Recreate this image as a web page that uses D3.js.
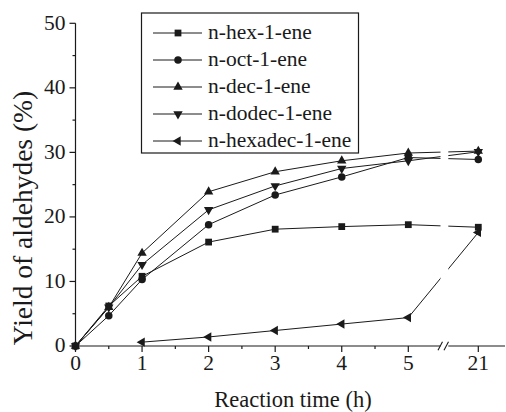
<!DOCTYPE html>
<html>
<head>
<meta charset="utf-8">
<script src="https://cdn.jsdelivr.net/npm/d3@7/dist/d3.min.js"></script>
<style>
  html, body { margin: 0; padding: 0; background: #fff; }
  #wrap { position: relative; width: 506px; height: 412px; overflow: hidden; }
  #wrap svg { position: absolute; left: 0; top: 0; display: block; }
  .lbl { position: absolute; white-space: nowrap; color: #1a1a1a; }
</style>
</head>
<body>
<div id="wrap"><svg id="chart" width="506" height="412"></svg></div>
<script>
// Reaction times (h) and aldehyde yields (%) per alkene
const seriesNames = ["n-hex-1-ene", "n-oct-1-ene", "n-dec-1-ene", "n-dodec-1-ene", "n-hexadec-1-ene"];
const timesMain = [0, 0.5, 1, 2, 3, 4, 5, 21];
const timesHexadec = [1, 2, 3, 4, 5, 21];
const hexValues    = [0, 6.2, 10.8, 16.1, 18.1, 18.5, 18.8, 18.4];
const octValues    = [0, 4.7, 10.3, 18.8, 23.4, 26.2, 29.2, 28.9];
const decValues    = [0, 6.0, 14.4, 23.9, 27.0, 28.7, 29.9, 30.2];
const dodecValues  = [0, 6.0, 12.6, 21.1, 24.8, 27.5, 28.7, 30.1];
const hexadecValues = [0.6, 1.4, 2.4, 3.4, 4.4, 17.6];
const xTickValues = [0, 1, 2, 3, 4, 5, 21];
const xMinorTicks = [0.5, 1.5, 2.5, 3.5, 4.5];
const yTickValues = [0, 10, 20, 30, 40, 50];
const yMinorTicks = [5, 15, 25, 35, 45];
const xTitle = "Reaction time (h)";
const yTitle = "Yield of aldehydes (%)";

const series = [
  { name: seriesNames[0], t: timesMain, v: hexValues, sym: "square" },
  { name: seriesNames[1], t: timesMain, v: octValues, sym: "circle" },
  { name: seriesNames[2], t: timesMain, v: decValues, sym: "up" },
  { name: seriesNames[3], t: timesMain, v: dodecValues, sym: "down" },
  { name: seriesNames[4], t: timesHexadec, v: hexadecValues, sym: "left" }
];

const svg = d3.select("#chart");
const wrap = d3.select("#wrap");
const ink = "#1a1a1a";

// broken time axis: 0–5 h linear, then a jump to 21 h
const x = d3.scaleLinear().domain([0, 5, 21]).range([75.5, 408.3, 478.3]);
const y = d3.scaleLinear().domain([0, 50]).range([346, 23.3]);

const breakL = 440.5, breakR = 448.3, axisEnd = 505;

function symbolPath(kind) {
  if (kind === "square") return d3.symbol(d3.symbolSquare, 46)();
  if (kind === "circle") return d3.symbol(d3.symbolCircle, 44)();
  return d3.symbol(d3.symbolTriangle, 38)();
}
function symbolRotation(kind) {
  if (kind === "down") return 180;
  if (kind === "left") return -90;
  return 0;
}

// serif labels placed by their baseline; anchor: start | middle | end
function label(px, baseline, str, size, anchor, rotate) {
  const top = baseline - 0.8375 * size;
  const shift = anchor === "end" ? "-100%" : anchor === "middle" ? "-50%" : "0";
  const d = wrap.append("div").attr("class", "lbl").text(str);
  const st = d.node().style;
  st.setProperty("font-family", "Liberation Serif", "important");
  st.setProperty("font-size", size + "px");
  st.setProperty("line-height", size + "px");
  if (rotate) {
    st.left = px + "px"; st.top = baseline + "px";
    st.transform = "translate(-50%,-50%) rotate(-90deg)";
  } else {
    st.left = px + "px"; st.top = top + "px";
    st.transform = `translateX(${shift})`;
  }
  return d;
}

const plot = svg.append("g");

// series lines
const line = d3.line().x(d => x(d[0])).y(d => y(d[1]));
series.forEach(s => {
  const pts = s.t.map((t, i) => [t, s.v[i]]);
  plot.append("path")
    .attr("d", line(pts))
    .attr("fill", "none")
    .attr("stroke", ink)
    .attr("stroke-width", 1);
});

// gap in the lines at the axis break
plot.append("rect")
  .attr("x", breakL).attr("y", y(50))
  .attr("width", breakR - breakL).attr("height", y(0) - y(50) - 2)
  .attr("fill", "#fff");

// markers
series.forEach(s => {
  plot.selectAll(null)
    .data(s.t.map((t, i) => [t, s.v[i]]))
    .join("path")
    .attr("d", symbolPath(s.sym))
    .attr("transform", d => `translate(${x(d[0])},${y(d[1])}) rotate(${symbolRotation(s.sym)})`)
    .attr("fill", ink);
});

// y axis
const yAxis = svg.append("g");
yAxis.append("line")
  .attr("x1", x(0)).attr("x2", x(0))
  .attr("y1", y(50)).attr("y2", y(0))
  .attr("stroke", ink).attr("stroke-width", 1.2);
yAxis.selectAll(".major").data(yTickValues).join("line")
  .attr("x1", x(0) - 6).attr("x2", x(0))
  .attr("y1", d => y(d)).attr("y2", d => y(d))
  .attr("stroke", ink).attr("stroke-width", 1.2);
yAxis.selectAll(".minor").data(yMinorTicks).join("line")
  .attr("x1", x(0) - 3).attr("x2", x(0))
  .attr("y1", d => y(d)).attr("y2", d => y(d))
  .attr("stroke", ink).attr("stroke-width", 1.2);
yTickValues.forEach(v => label(x(0) - 10, y(v) + 7.4, String(v), 21.5, "end"));

// x axis (two segments around the break)
const xAxis = svg.append("g");
const y0 = y(0);
xAxis.append("line")
  .attr("x1", x(0)).attr("x2", breakL).attr("y1", y0).attr("y2", y0)
  .attr("stroke", ink).attr("stroke-width", 1.2);
xAxis.append("line")
  .attr("x1", breakR).attr("x2", axisEnd).attr("y1", y0).attr("y2", y0)
  .attr("stroke", ink).attr("stroke-width", 1.2);
[0, 6].forEach(off => {
  xAxis.append("line")
    .attr("x1", breakL - 2.5 + off).attr("y1", y0 + 4.3)
    .attr("x2", breakL + 2 + off).attr("y2", y0 - 4.3)
    .attr("stroke", ink).attr("stroke-width", 1.1);
});
xAxis.selectAll(".major").data(xTickValues).join("line")
  .attr("x1", d => x(d)).attr("x2", d => x(d))
  .attr("y1", y0).attr("y2", y0 + 6)
  .attr("stroke", ink).attr("stroke-width", 1.2);
xAxis.selectAll(".minor").data(xMinorTicks).join("line")
  .attr("x1", d => x(d)).attr("x2", d => x(d))
  .attr("y1", y0).attr("y2", y0 + 3)
  .attr("stroke", ink).attr("stroke-width", 1.2);
xTickValues.forEach(v => label(x(v), y0 + 25.5, String(v), 21.5, "middle"));

// axis titles
label(293, 407.5, xTitle, 22.5, "middle");
label(22.7, 218, yTitle, 27.5, "middle", true);

// legend
const legend = svg.append("g");
legend.append("rect")
  .attr("x", 141.5).attr("y", 13).attr("width", 217).attr("height", 140)
  .attr("fill", "#fff").attr("stroke", ink).attr("stroke-width", 1.2);
const rowY = d3.scaleLinear().domain([0, 4]).range([33, 141]);
series.forEach((s, i) => {
  const ry = rowY(i);
  legend.append("line")
    .attr("x1", 153).attr("x2", 202).attr("y1", ry).attr("y2", ry)
    .attr("stroke", ink).attr("stroke-width", 1);
  legend.append("path")
    .attr("d", symbolPath(s.sym))
    .attr("transform", `translate(178,${ry}) rotate(${symbolRotation(s.sym)})`)
    .attr("fill", ink);
  label(208, ry + 7, s.name, 21.5, "start");
});
</script>
</body>
</html>
